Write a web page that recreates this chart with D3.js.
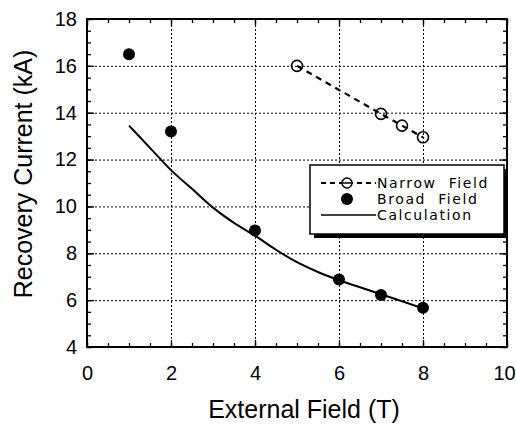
<!DOCTYPE html>
<html>
<head>
<meta charset="utf-8">
<script src="https://cdn.jsdelivr.net/npm/d3@7"></script>
<style>
  body { margin: 0; background: #fff; }
  .tick text { font-family: "Liberation Sans", Arial, sans-serif; font-size: 20px; fill: #000; }
  .grid line { stroke: #000; stroke-width: 1; stroke-dasharray: 2,2; }
  .domain { display: none; }
</style>
</head>
<body>
<div id="chart"></div>
<script>
// values
const xTicks = [0, 2, 4, 6, 8, 10];
const yTicks = [4, 6, 8, 10, 12, 14, 16, 18];

const narrowX = [5, 7, 7.5, 8];
const narrowY = [16.0, 13.95, 13.45, 12.95];

const broadX = [1, 2, 4, 6, 7, 8];
const broadY = [16.5, 13.2, 8.97, 6.88, 6.22, 5.68];

const calcX = [1, 1.5, 2, 2.5, 3, 3.5, 4, 4.5, 5, 5.5, 6, 6.5, 7, 7.5, 8];
const calcY = [13.45, 12.5, 11.55, 10.75, 9.95, 9.3, 8.75, 8.15, 7.62, 7.2, 6.85, 6.55, 6.25, 5.95, 5.65];

const legendLabels = ['Narrow  Field', 'Broad  Field', 'Calculation'];

const width = 516, height = 425;
const pLeft = 87, pRight = 507, pTop = 19, pBottom = 347;

const svg = d3.select('#chart').append('svg')
  .attr('width', width)
  .attr('height', height);

svg.append('rect').attr('width', width).attr('height', height).attr('fill', '#fff');

const x = d3.scaleLinear().domain([0, 10]).range([pLeft, pRight]);
const y = d3.scaleLinear().domain([4, 18]).range([pBottom, pTop]);

const minorX = d3.range(0, 10.01, 0.5);
const minorY = d3.range(4, 18.01, 0.5);

// dotted grid
svg.append('g').attr('class', 'grid')
  .attr('transform', `translate(0,${pBottom})`)
  .call(d3.axisBottom(x).tickValues([2, 4, 6, 8]).tickSize(-(pBottom - pTop)).tickFormat(''));
svg.append('g').attr('class', 'grid')
  .attr('transform', `translate(${pLeft},0)`)
  .call(d3.axisLeft(y).tickValues([6, 8, 10, 12, 14, 16]).tickSize(-(pRight - pLeft)).tickFormat(''));

// inward ticks on all four sides
function ticks(axisFn, scale, pos, vals, size, fmt) {
  const a = axisFn(scale).tickValues(vals).tickSizeInner(-size).tickSizeOuter(0);
  if (fmt) a.tickFormat(fmt); else a.tickFormat('');
  return svg.append('g').attr('transform', pos).call(a);
}
ticks(d3.axisBottom, x, `translate(0,${pBottom})`, minorX, 4);
ticks(d3.axisTop, x, `translate(0,${pTop})`, minorX, 4);
ticks(d3.axisLeft, y, `translate(${pLeft},0)`, minorY, 4);
ticks(d3.axisRight, y, `translate(${pRight},0)`, minorY, 4);

const xb = ticks(d3.axisBottom, x, `translate(0,${pBottom})`, xTicks, 7, d3.format('d'));
xb.selectAll('text').attr('y', 19)
  .attr('x', d => d === 10 ? -3 : 0);
ticks(d3.axisTop, x, `translate(0,${pTop})`, xTicks, 7);
const yl = ticks(d3.axisLeft, y, `translate(${pLeft},0)`, yTicks, 7, d3.format('d'));
yl.selectAll('text').attr('x', -10);
ticks(d3.axisRight, y, `translate(${pRight},0)`, yTicks, 7);
svg.selectAll('.tick line').filter(function () { return !this.closest('.grid'); })
  .attr('stroke', '#000').attr('stroke-width', 1.3);

// frame
svg.append('rect')
  .attr('x', pLeft).attr('y', pTop)
  .attr('width', pRight - pLeft).attr('height', pBottom - pTop)
  .attr('fill', 'none').attr('stroke', '#000').attr('stroke-width', 2);

// axis titles
svg.append('text')
  .attr('x', (pLeft + pRight) / 2 + 7).attr('y', 418)
  .attr('text-anchor', 'middle')
  .style('font-family', '"Liberation Sans", Arial, sans-serif')
  .style('font-size', '25px')
  .text('External Field (T)');
svg.append('text')
  .attr('transform', `translate(32,${174}) rotate(-90)`)
  .attr('text-anchor', 'middle')
  .style('font-family', '"Liberation Sans", Arial, sans-serif')
  .style('font-size', '25px')
  .text('Recovery Current (kA)');

// calculation curve
const calc = calcX.map((v, i) => [v, calcY[i]]);
svg.append('path')
  .datum(calc)
  .attr('fill', 'none').attr('stroke', '#000').attr('stroke-width', 2)
  .attr('d', d3.line().x(d => x(d[0])).y(d => y(d[1])).curve(d3.curveMonotoneX));

// narrow field
const narrow = narrowX.map((v, i) => [v, narrowY[i]]);
svg.append('path')
  .datum(narrow)
  .attr('fill', 'none').attr('stroke', '#000').attr('stroke-width', 2.2)
  .attr('stroke-dasharray', '6,5')
  .attr('d', d3.line().x(d => x(d[0])).y(d => y(d[1])));
svg.append('g').selectAll('circle')
  .data(narrow).enter().append('circle')
  .attr('cx', d => x(d[0])).attr('cy', d => y(d[1]))
  .attr('r', 5.5)
  .attr('fill', 'none').attr('stroke', '#000').attr('stroke-width', 1.6);

// broad field
const broad = broadX.map((v, i) => [v, broadY[i]]);
svg.append('g').selectAll('circle')
  .data(broad).enter().append('circle')
  .attr('cx', d => x(d[0])).attr('cy', d => y(d[1]))
  .attr('r', 6)
  .attr('fill', '#000');

// legend
const lg = svg.append('g');
lg.append('rect').attr('x', 314).attr('y', 169).attr('width', 194).attr('height', 69).attr('fill', '#000');
lg.append('rect').attr('x', 310).attr('y', 165).attr('width', 194).attr('height', 69)
  .attr('fill', '#fff').attr('stroke', '#000').attr('stroke-width', 1.5);

const rowY = [183, 199, 215];
lg.append('line').attr('x1', 321).attr('x2', 376).attr('y1', rowY[0]).attr('y2', rowY[0])
  .attr('stroke', '#000').attr('stroke-width', 2).attr('stroke-dasharray', '5,4');
lg.append('circle').attr('cx', 347).attr('cy', rowY[0]).attr('r', 5)
  .attr('fill', '#fff').attr('stroke', '#000').attr('stroke-width', 1.5);
lg.append('line').attr('x1', 343).attr('x2', 351).attr('y1', rowY[0]).attr('y2', rowY[0])
  .attr('stroke', '#000').attr('stroke-width', 1.5);
lg.append('circle').attr('cx', 347).attr('cy', rowY[1]).attr('r', 6).attr('fill', '#000');
lg.append('line').attr('x1', 321).attr('x2', 376).attr('y1', rowY[2]).attr('y2', rowY[2])
  .attr('stroke', '#000').attr('stroke-width', 1.5);

lg.selectAll('text.lbl')
  .data(legendLabels).enter().append('text')
  .attr('class', 'lbl')
  .attr('x', 377).attr('y', (d, i) => rowY[i] + 5)
  .style('font-family', '"DejaVu Sans", Verdana, sans-serif')
  .style('font-size', '14px')
  .style('letter-spacing', '1.6px')
  .style('white-space', 'pre')
  .text(d => d);
</script>
</body>
</html>
